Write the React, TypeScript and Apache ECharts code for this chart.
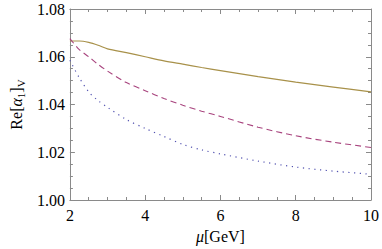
import React, { useEffect, useRef } from "react";
import * as echarts from "echarts";

const mu = [2, 2.25, 2.5, 2.75, 3, 3.5, 4, 4.5, 5, 5.5, 6, 7, 8, 9, 10];
const solid = [1.0666, 1.0666, 1.066, 1.0648, 1.0633, 1.0617, 1.06, 1.0583, 1.0569, 1.0555, 1.0542, 1.0517, 1.0494, 1.0473, 1.0453];
const dashed = [1.0676, 1.063, 1.06, 1.0568, 1.054, 1.0492, 1.0458, 1.0425, 1.0397, 1.0372, 1.035, 1.0305, 1.0269, 1.0242, 1.022];
const dotted = [1.0585, 1.0512, 1.0453, 1.0416, 1.0388, 1.0337, 1.03, 1.0266, 1.0233, 1.021, 1.0193, 1.0163, 1.0138, 1.0121, 1.0108];
const xTicks = [2, 4, 6, 8, 10];
const yTicks = ["1.00", "1.02", "1.04", "1.06", "1.08"];

const FONT = "Liberation Serif";
const AXC = "#8a8a8a";

export default function App() {
  const ref = useRef<HTMLDivElement>(null);
  useEffect(() => {
    const chart = echarts.init(ref.current!, null, { renderer: "svg" });
    const pair = (ys: number[]) => mu.map((x, i) => [x, ys[i]]);
    const axisCommon = {
      axisLine: { show: true, lineStyle: { color: AXC, width: 1 } },
      axisTick: { show: true, inside: true, length: 5, lineStyle: { color: AXC } },
      minorTick: { show: true, splitNumber: 4, length: 3, lineStyle: { color: AXC } },
      splitLine: { show: false },
      minorSplitLine: { show: false },
    };
    chart.setOption({
      animation: false,
      textStyle: { fontFamily: FONT },
      grid: { left: 58, right: 9, top: 9, bottom: 47 },
      xAxis: [
        {
          type: "value", min: xTicks[0], max: xTicks[xTicks.length - 1], interval: 2,
          ...axisCommon,
          axisLabel: { color: "#000", fontFamily: FONT, fontSize: 16, margin: 7 },
          name: "{i|μ}{n|[GeV]}",
          nameLocation: "middle",
          nameGap: 28,
          nameTextStyle: {
            color: "#000", fontFamily: FONT, fontSize: 16,
            rich: {
              i: { fontFamily: FONT, fontStyle: "italic", fontSize: 16, color: "#000" },
              n: { fontFamily: FONT, fontSize: 16, color: "#000" },
            },
          },
        },
        {
          type: "value", min: 2, max: 10, interval: 2, position: "top",
          ...axisCommon,
          axisLabel: { show: false },
        },
      ],
      yAxis: [
        {
          type: "value", min: 1.0, max: 1.08, interval: 0.02,
          ...axisCommon,
          axisLabel: {
            color: "#000", fontFamily: FONT, fontSize: 16, margin: 5,
            formatter: (v: number) => yTicks[Math.round((v - 1) / 0.02)] ?? "",
          },
          name: "{n|Re[}{a|α}{s|1}{n|]}{s|V}",
          nameLocation: "middle",
          nameGap: 42,
          nameRotate: 90,
          nameTextStyle: {
            color: "#000", fontFamily: FONT, fontSize: 16,
            rich: {
              n: { fontFamily: FONT, fontSize: 16, color: "#000", lineHeight: 20, verticalAlign: "middle" },
              a: { fontFamily: FONT, fontStyle: "italic", fontSize: 16, color: "#000", lineHeight: 20, verticalAlign: "middle" },
              s: { fontFamily: FONT, fontSize: 11, color: "#000", lineHeight: 11, verticalAlign: "bottom" },
            },
          },
        },
        {
          type: "value", min: 1.0, max: 1.08, interval: 0.02, position: "right",
          ...axisCommon,
          axisLabel: { show: false },
        },
      ],
      series: [
        {
          type: "line", data: pair(solid), smooth: 0.3, showSymbol: false,
          lineStyle: { color: "#a8914a", width: 1.2, type: "solid" },
        },
        {
          type: "line", data: pair(dashed), smooth: 0.3, showSymbol: false,
          lineStyle: { color: "#a8447e", width: 1.1, type: [6, 4] },
        },
        {
          type: "line", data: pair(dotted), smooth: 0.3, showSymbol: false,
          lineStyle: { color: "#5252b0", width: 1.2, type: [1.2, 4.5] },
        },
      ],
    });
    return () => chart.dispose();
  }, []);
  return <div ref={ref} style={{ width: 382, height: 249, position: "absolute", left: 0, top: 0 }} />;
}
